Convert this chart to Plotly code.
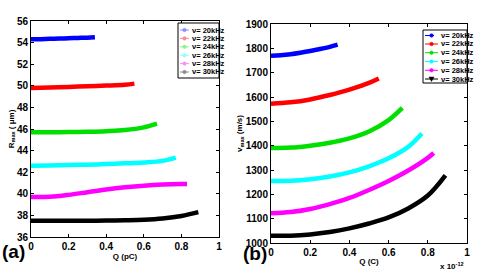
import plotly.graph_objects as go

labels = ["ν= 20kHz", "ν= 22kHz", "ν= 24kHz", "ν= 26kHz", "ν= 28kHz", "ν= 30kHz"]
colors = ["#0000ff", "#ff0000", "#00e000", "#00ffff", "#ff00ff", "#000000"]
faded = ["#8c8cff", "#ff8c8c", "#8cf08c", "#8cffff", "#ff8cff", "#8c8c8c"]

# Panel (a): R_max vs Q (pC)
qa = [
    [0.0, 0.05, 0.1, 0.15, 0.2, 0.25, 0.3, 0.34],
    [0.0, 0.1, 0.2, 0.3, 0.4, 0.5, 0.55],
    [0.0, 0.1, 0.2, 0.3, 0.4, 0.5, 0.6, 0.67],
    [0.0, 0.1, 0.2, 0.3, 0.4, 0.5, 0.6, 0.7, 0.77],
    [0.0, 0.1, 0.2, 0.3, 0.4, 0.5, 0.6, 0.7, 0.8, 0.83],
    [0.0, 0.1, 0.2, 0.3, 0.4, 0.5, 0.6, 0.7, 0.8, 0.89],
]
ra = [
    [54.3, 54.32, 54.35, 54.38, 54.4, 54.43, 54.46, 54.5],
    [49.8, 49.84, 49.9, 49.96, 50.02, 50.1, 50.2],
    [45.7, 45.7, 45.72, 45.75, 45.8, 45.9, 46.15, 46.5],
    [42.6, 42.62, 42.66, 42.7, 42.75, 42.82, 42.9, 43.05, 43.35],
    [39.7, 39.72, 39.9, 40.15, 40.4, 40.6, 40.75, 40.85, 40.9, 40.9],
    [37.5, 37.5, 37.5, 37.5, 37.52, 37.55, 37.6, 37.72, 37.95, 38.3],
]

# Panel (b): v_max vs Q (x 1e-12 C)
qb = [
    [0.0, 0.05, 0.1, 0.15, 0.2, 0.25, 0.3, 0.34],
    [0.0, 0.1, 0.2, 0.3, 0.4, 0.5, 0.55],
    [0.0, 0.1, 0.2, 0.3, 0.4, 0.5, 0.6, 0.67],
    [0.0, 0.1, 0.2, 0.3, 0.4, 0.5, 0.6, 0.7, 0.77],
    [0.0, 0.1, 0.2, 0.3, 0.4, 0.5, 0.6, 0.7, 0.8, 0.83],
    [0.0, 0.1, 0.2, 0.3, 0.4, 0.5, 0.6, 0.7, 0.8, 0.89],
]
vb = [
    [1770, 1772, 1776, 1782, 1789, 1797, 1806, 1815],
    [1572, 1578, 1590, 1608, 1630, 1658, 1676],
    [1390, 1392, 1400, 1412, 1430, 1458, 1505, 1555],
    [1255, 1256, 1262, 1273, 1290, 1315, 1348, 1395, 1450],
    [1122, 1127, 1140, 1160, 1185, 1218, 1255, 1298, 1350, 1370],
    [1030, 1030, 1035, 1045, 1060, 1080, 1105, 1142, 1195, 1278],
]

W, H = 491, 273
FAM = "Liberation Sans Narrow, Liberation Sans, Arial"
def PX(x):
    return x / W
def PY(y):
    return 1 - y / H

fig = go.Figure()
for i in range(6):
    fig.add_trace(go.Scatter(x=qa[i], y=ra[i], mode="lines", name=labels[i],
                             line=dict(color=colors[i], width=4.5, shape="spline"),
                             showlegend=False, xaxis="x", yaxis="y"))
for i in range(6):
    fig.add_trace(go.Scatter(x=qb[i], y=vb[i], mode="lines", name=labels[i],
                             line=dict(color=colors[i], width=4.5, shape="spline"),
                             showlegend=False, xaxis="x2", yaxis="y2"))

shapes = []
annotations = []

def legend_box(x0, y0, x1, y1, entries_y, lx0, lx1, tx, cols, dashes, markers):
    shapes.append(dict(type="rect", xref="paper", yref="paper", x0=PX(x0), x1=PX(x1),
                       y0=PY(y1), y1=PY(y0), line=dict(color="black", width=1), fillcolor="white", layer="above"))
    for i, ey in enumerate(entries_y):
        shapes.append(dict(type="line", xref="paper", yref="paper", x0=PX(lx0), x1=PX(lx1),
                           y0=PY(ey), y1=PY(ey), line=dict(color=cols[i], width=1, dash=dashes[i]), layer="above"))
        mx = PX((lx0 + lx1) / 2)
        if markers[i] == "tri":
            shapes.append(dict(type="path", xref="paper", yref="paper", xsizemode="pixel", ysizemode="pixel",
                               xanchor=mx, yanchor=PY(ey), path="M -2.5,2 L 2.5,2 L 0,-2.5 Z",
                               fillcolor=cols[i], line=dict(color=cols[i], width=0.5), layer="above"))
        else:
            shapes.append(dict(type="circle", xref="paper", yref="paper", xsizemode="pixel", ysizemode="pixel",
                               xanchor=mx, yanchor=PY(ey), x0=-1.8, x1=1.8, y0=-1.8, y1=1.8,
                               fillcolor=cols[i], line=dict(color=cols[i], width=0.5), layer="above"))
        annotations.append(dict(text=labels[i], x=PX(tx), y=PY(ey), xref="paper", yref="paper",
                                xanchor="left", yanchor="middle", showarrow=False,
                                font=dict(size=7.5, family=FAM, color="black", weight="bold")))

legend_box(178, 23, 219, 78, [30, 38.4, 46.8, 55.2, 63.6, 72], 180, 189, 189.5,
           faded, ["solid"] * 6, ["c"] * 6)
legend_box(423, 30, 467, 83, [35.5, 44, 52.7, 61.5, 70.3, 79], 425, 438, 438.5,
           colors, ["dash"] + ["solid"] * 5, ["c"] * 5 + ["tri"])

axfont = dict(family=FAM, size=10, color="black", weight="bold")
titlefont = dict(family=FAM, size=8, color="black", weight="bold")
common = dict(showgrid=False, zeroline=False, showline=True, linecolor="black", linewidth=1,
              mirror="ticks", ticks="inside", ticklen=3, tickcolor="black", tickfont=axfont,
              automargin=False)

annotations += [
    dict(text="<b>(a)</b>", x=0.0, y=PY(251), xref="paper", yref="paper", xanchor="left", yanchor="middle",
         showarrow=False, font=dict(size=19, family="Liberation Sans", color="black")),
    dict(text="<b>(b)</b>", x=PX(241), y=PY(253), xref="paper", yref="paper", xanchor="left", yanchor="middle",
         showarrow=False, font=dict(size=19, family="Liberation Sans", color="black")),
    dict(text="x 10<sup>-12</sup>", x=PX(466), y=PY(266), xref="paper", yref="paper", xanchor="right",
         yanchor="middle", showarrow=False, font=titlefont),
]

fig.update_layout(
    width=W, height=H, margin=dict(l=0, r=0, t=0, b=0, autoexpand=False),
    paper_bgcolor="white", plot_bgcolor="white", showlegend=False,
    font=dict(family=FAM, size=8, color="black"),
    xaxis=dict(domain=[PX(31), PX(219)], range=[0, 1], tickvals=[0, 0.2, 0.4, 0.6, 0.8, 1],
               ticktext=["0", "0.2", "0.4", "0.6", "0.8", "1"],
               title=dict(text="Q (pC)", font=titlefont, standoff=1), **common),
    yaxis=dict(domain=[PY(237), PY(21)], range=[36, 56], dtick=2,
               title=dict(text="R<sub>max</sub> ( μm)", font=titlefont, standoff=1), **common),
    xaxis2=dict(domain=[PX(271), PX(467)], range=[0, 1], tickvals=[0, 0.2, 0.4, 0.6, 0.8, 1],
                ticktext=["0", "0.2", "0.4", "0.6", "0.8", "1"], anchor="y2",
                title=dict(text="Q (C)", font=titlefont, standoff=1), **common),
    yaxis2=dict(domain=[PY(243), PY(24)], range=[1000, 1900], dtick=100, anchor="x2",
                title=dict(text="v<sub>max</sub> (m/s)", font=titlefont, standoff=1), **common),
    shapes=shapes,
    annotations=annotations,
)

fig.write_html("out.html", config={"displayModeBar": False},
               post_script="document.body.style.margin='0';document.body.style.padding='0';")
